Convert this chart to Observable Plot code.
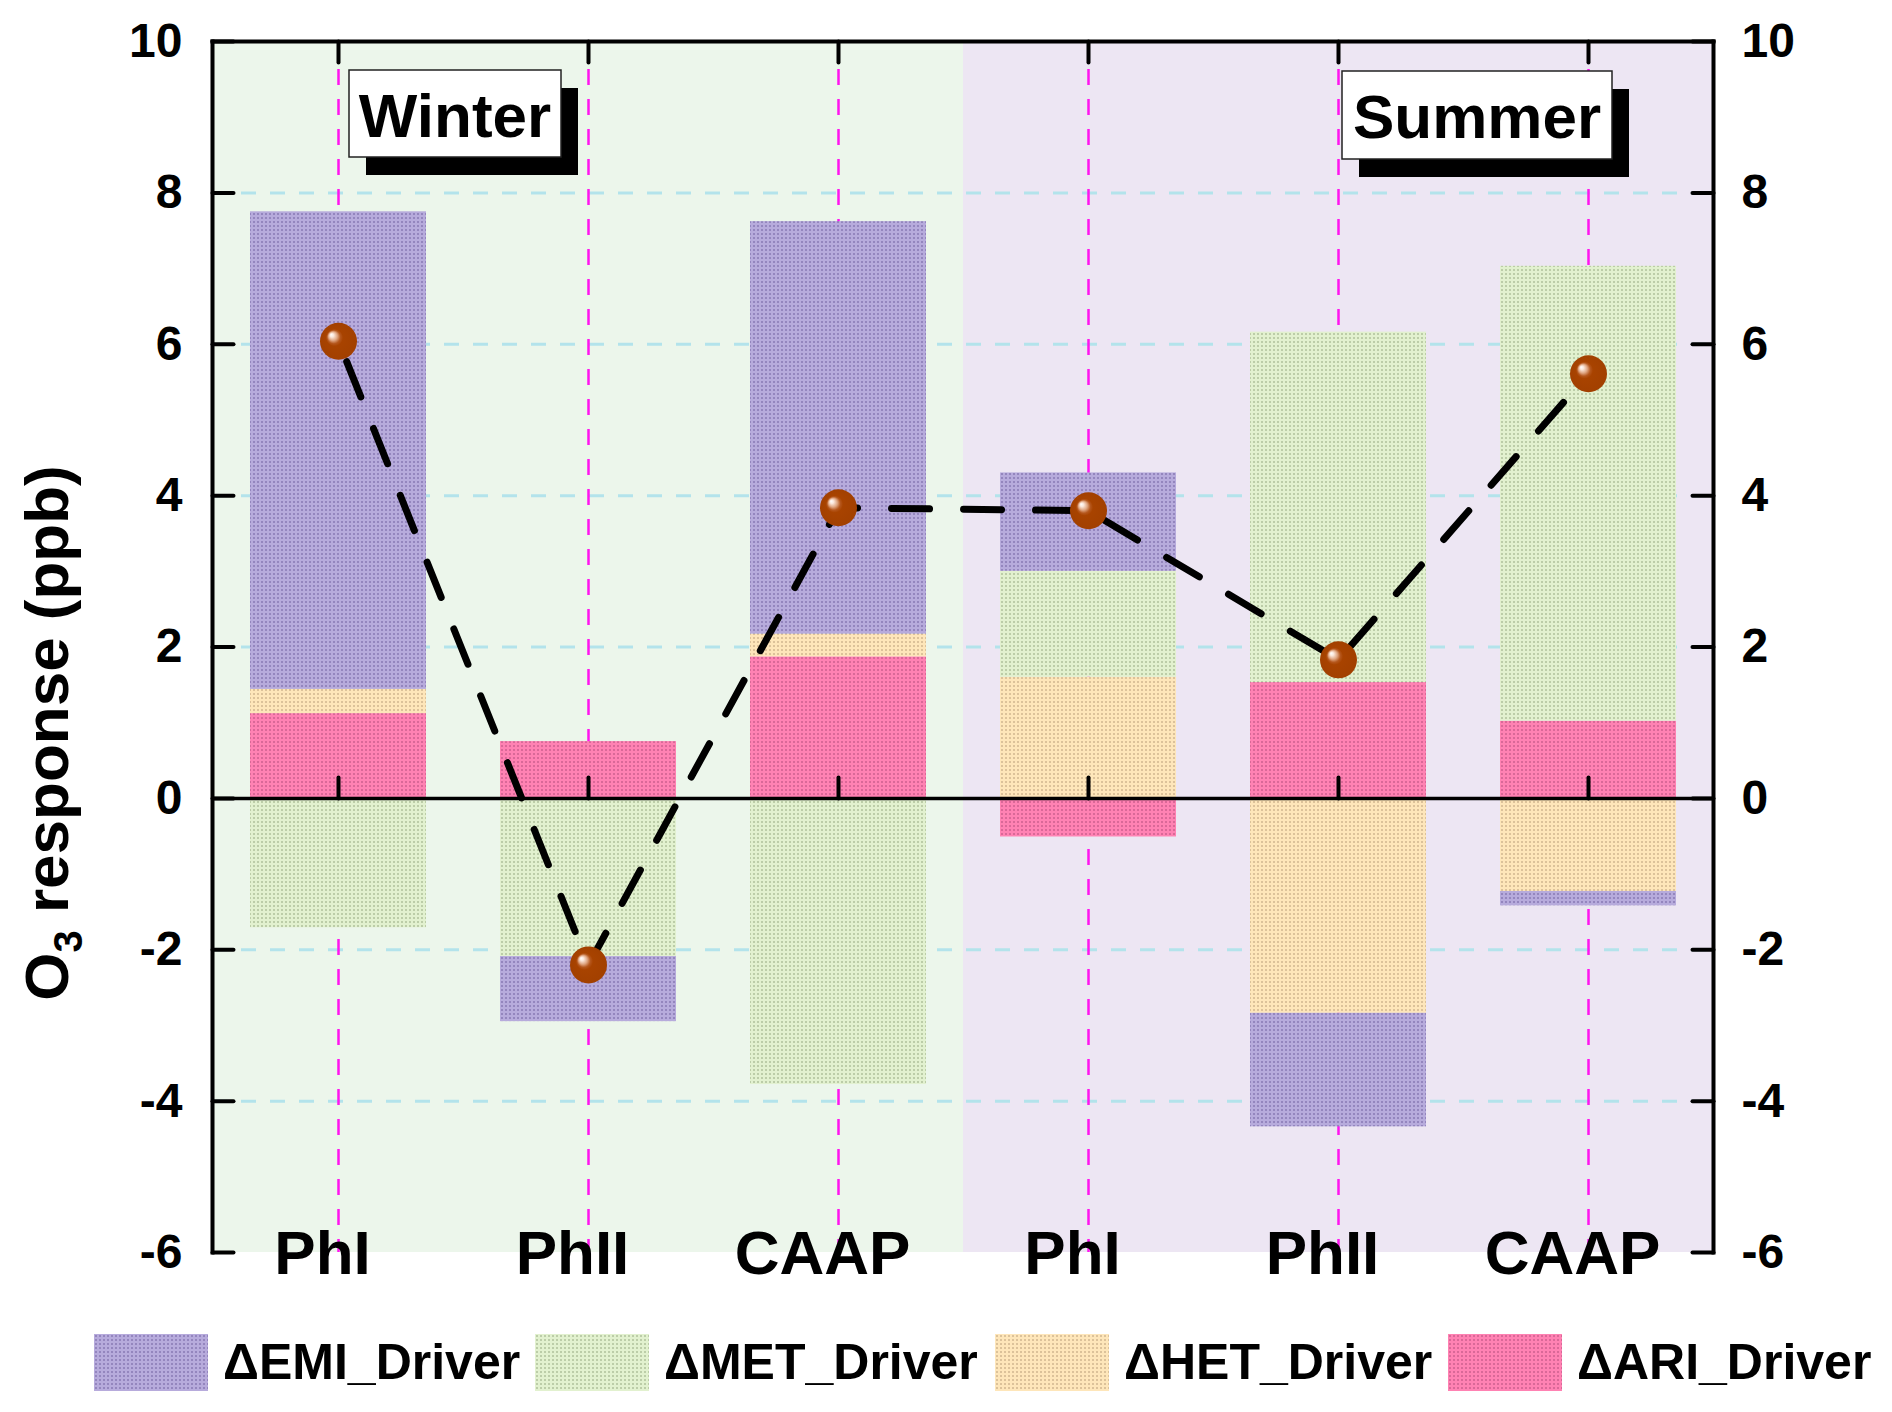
<!DOCTYPE html>
<html><head><meta charset="utf-8">
<script src="https://cdn.jsdelivr.net/npm/d3@7"></script>
<script src="https://cdn.jsdelivr.net/npm/@observablehq/plot@0.6"></script>
<style>
html,body{margin:0;padding:0;background:#fff;}
#wrap{position:relative;width:1892px;height:1412px;font-family:"Liberation Sans",Arial,sans-serif;}
#wrap > svg{position:absolute;left:0;top:0;}
.leg{position:absolute;top:1334px;display:flex;align-items:center;height:57px;}
.leg svg{display:block}
.leg span{font-size:50px;font-weight:bold;margin-left:15px;line-height:57px;color:#000;white-space:nowrap;}
</style></head><body><div id="wrap"></div>
<script>
// ---- data ----
const keys = ["W-PhI","W-PhII","W-CAAP","S-PhI","S-PhII","S-CAAP"];
const labels = ["PhI","PhII","CAAP","PhI","PhII","CAAP"];
const seasons = ["Winter","Winter","Winter","Summer","Summer","Summer"];
const drivers = ["ARI","HET","MET","EMI"]; // stacking order from zero outward
const emi = [6.31, -0.86, 5.45, 1.30, -1.50, -0.19];
const met = [-1.71, -2.09, -3.78, 1.40, 4.63, 6.01];
const het = [0.32, 0.00, 0.30, 1.60, -2.84, -1.23];
const ari = [1.12, 0.75, 1.87, -0.51, 1.53, 1.02];
const total = [6.04, -2.20, 3.84, 3.80, 1.83, 5.61];
const yTicks = [-6, -4, -2, 0, 2, 4, 6, 8, 10];
const gridTicks = [-4, -2, 2, 4, 6, 8];
const legendOrder = ["EMI","MET","HET","ARI"];
const legendLabels = ["ΔEMI_Driver","ΔMET_Driver","ΔHET_Driver","ΔARI_Driver"];

// ---- styles ----
const patternColors = {
  EMI: {base:"#B7ABDC", dot:"#9486BE"},
  MET: {base:"#E2F1CF", dot:"#BCCDA8"},
  HET: {base:"#FEE6BA", dot:"#DCC29A"},
  ARI: {base:"#FF82B3", dot:"#DA6898"}
};
const winterBg = "#ECF6EB", summerBg = "#EDE6F3";
const legendLefts = [94, 535, 995, 1448];

const series = {ARI: ari, HET: het, MET: met, EMI: emi};
const barData = drivers.flatMap(dr => keys.map((k, i) => ({key: k, driver: dr, value: series[dr][i]})));
const catData = keys.map((k, i) => ({key: k, label: labels[i], season: seasons[i], total: total[i]}));

const defsMark = () => {
  const defs = d3.create("svg:defs");
  for (const [id, c] of Object.entries(patternColors)) {
    const p = defs.append("pattern").attr("id", "p" + id).attr("width", 4).attr("height", 4)
      .attr("patternUnits", "userSpaceOnUse");
    p.append("rect").attr("width", 4).attr("height", 4).attr("fill", c.base);
    p.append("rect").attr("x", 1).attr("y", 1).attr("width", 2).attr("height", 2).attr("fill", c.dot);
  }
  const g = defs.append("radialGradient").attr("id", "ball")
    .attr("cx", "50%").attr("cy", "50%").attr("r", "50%").attr("fx", "30%").attr("fy", "32%");
  [[0, "#FFFFFF"], [0.1, "#FBE8DC"], [0.24, "#DFA581"], [0.36, "#B5571D"], [0.46, "#A84300"], [1, "#A24000"]]
    .forEach(([o, c]) => g.append("stop").attr("offset", o).attr("stop-color", c));
  return defs.node();
};

const tickShape = {draw(ctx, l) { ctx.moveTo(0, 0); ctx.lineTo(0, -l); }};
const bold = {fontWeight: "bold", fill: "black"};

const chart = Plot.plot({
  width: 1892, height: 1300,
  marginLeft: 212, marginRight: 179, marginTop: 41, marginBottom: 48,
  style: {background: "transparent", fontFamily: "'Liberation Sans', Arial, sans-serif", overflow: "visible"},
  x: {type: "band", domain: keys, padding: 0, axis: null},
  y: {domain: [-6, 10], axis: null},
  color: {type: "ordinal", domain: drivers, range: drivers.map(d => `url(#p${d})`)},
  marks: [
    defsMark,
    Plot.barY(catData.filter(d => d.season === "Winter"), {x: "key", y1: -6, y2: 10, fill: winterBg}),
    Plot.barY(catData.filter(d => d.season === "Summer"), {x: "key", y1: -6, y2: 10, fill: summerBg}),
    Plot.ruleY(gridTicks, {y: d => d, stroke: "#B3E3EB", strokeWidth: 3, strokeDasharray: "15,14"}),
    Plot.ruleX(catData, {x: "key", stroke: "#FF14F0", strokeWidth: 2.5, strokeDasharray: "16,14", strokeDashoffset: -28}),
    Plot.barY(barData, Plot.stackY({x: "key", y: "value", fill: "driver", insetLeft: 37, insetRight: 37})),
    Plot.ruleY([0], {stroke: "black", strokeWidth: 3.5}),
    Plot.vector(catData, {x: "key", y: () => 0, length: 21, rotate: 0, anchor: "start", shape: tickShape, stroke: "black", strokeWidth: 4}),
    Plot.vector(catData, {x: "key", frameAnchor: "top", length: 21, rotate: 180, anchor: "start", shape: tickShape, stroke: "black", strokeWidth: 4}),
    Plot.vector(yTicks, {y: d => d, frameAnchor: "left", length: 21, rotate: 90, anchor: "start", shape: tickShape, stroke: "black", strokeWidth: 4}),
    Plot.vector(yTicks, {y: d => d, frameAnchor: "right", length: 21, rotate: -90, anchor: "start", shape: tickShape, stroke: "black", strokeWidth: 4}),
    Plot.frame({anchor: "left", stroke: "black", strokeWidth: 4, strokeLinecap: "square"}),
    Plot.frame({anchor: "top", stroke: "black", strokeWidth: 4, strokeLinecap: "square"}),
    Plot.frame({anchor: "right", stroke: "black", strokeWidth: 4, strokeLinecap: "square"}),
    Plot.line(catData, {x: "key", y: "total", stroke: "black", strokeWidth: 7, strokeDasharray: "38,34", strokeDashoffset: -22, strokeLinecap: "round"}),
    Plot.dot(catData, {x: "key", y: "total", r: 18.5, fill: "url(#ball)"}),
    Plot.text(yTicks, {y: d => d, text: d => String(d), frameAnchor: "left", textAnchor: "end", dx: -30, fontSize: 48, ...bold}),
    Plot.text(yTicks, {y: d => d, text: d => String(d), frameAnchor: "right", textAnchor: "start", dx: 28, fontSize: 48, ...bold}),
    Plot.text(catData, {x: "key", text: "label", frameAnchor: "bottom", dx: -16, dy: 21, fontSize: 62, ...bold})
  ]
});

const svg = d3.select(chart);
function seasonBox(x, y, w, h, label) {
  svg.append("rect").attr("x", x + 17).attr("y", y + 18).attr("width", w).attr("height", h).attr("fill", "black");
  svg.append("rect").attr("x", x).attr("y", y).attr("width", w).attr("height", h)
    .attr("fill", "white").attr("stroke", "#222").attr("stroke-width", 1.5);
  svg.append("text").attr("x", x + w / 2).attr("y", y + 67).attr("text-anchor", "middle")
    .attr("font-size", 62).attr("font-weight", "bold").attr("fill", "black").text(label);
}
seasonBox(349, 70, 212, 87, "Winter");
seasonBox(1342, 71, 270, 88, "Summer");

const t = svg.append("text").attr("transform", "translate(68,733) rotate(-90)")
  .attr("text-anchor", "middle").attr("font-size", 62).attr("font-weight", "bold").attr("fill", "black");
t.append("tspan").text("O");
t.append("tspan").attr("font-size", 40).attr("dy", 14).text("3");
t.append("tspan").attr("dy", -14).text(" response (ppb)");

const wrap = document.getElementById("wrap");
wrap.appendChild(chart);
legendOrder.forEach((d, i) => {
  const item = document.createElement("div");
  item.className = "leg";
  item.style.left = legendLefts[i] + "px";
  item.innerHTML = `<svg width="114" height="57"><rect width="114" height="57" fill="url(#p${d})"/></svg><span>${legendLabels[i]}</span>`;
  wrap.appendChild(item);
});
</script></body></html>
